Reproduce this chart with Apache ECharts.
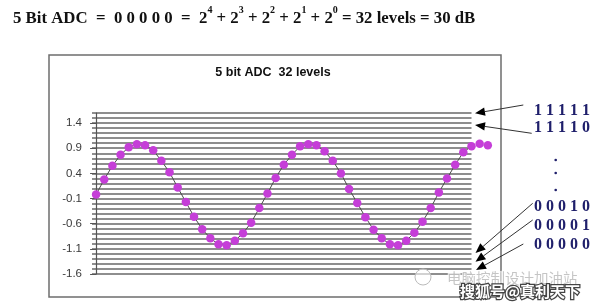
<!DOCTYPE html>
<html><head><meta charset="utf-8">
<script src="https://cdn.jsdelivr.net/npm/echarts@6/dist/echarts.min.js"></script>
<style>html,body{margin:0;padding:0;background:#fff}#c{width:600px;height:308px}</style>
</head><body><div id="c"></div>
<script>
// ---- data ----
const levelValues = [
  -0.02, 0.28, 0.55, 0.77, 0.92, 0.98, 0.96, 0.86, 0.65, 0.42,
   0.12,-0.17,-0.46,-0.71,-0.89,-1.01,-1.03,-0.94,-0.79,-0.58,
  -0.29, 0.00, 0.31, 0.57, 0.77, 0.94, 0.98, 0.96, 0.84, 0.65,
   0.40, 0.09,-0.19,-0.47,-0.72,-0.89,-1.01,-1.03,-0.94,-0.78,
  -0.56,-0.29, 0.02, 0.30, 0.57, 0.82, 0.94, 0.99, 0.96
];
const yTickLabels = [-1.6, -1.1, -0.6, -0.1, 0.4, 0.9, 1.4];
const yMin = -1.6, yMax = 1.6, levelStep = 0.1;
const codeLabels = ['1 1 1 1 1', '1 1 1 1 0', '0 0 0 1 0', '0 0 0 0 1', '0 0 0 0 0'];
const chartTitle = '5 bit ADC  32 levels';
const headParts = [
  ['5 Bit ADC  =  0 0 0 0 0  =  2', 'b'], ['4', 's'],
  [' + 2', 'b'], ['3', 's'], [' + 2', 'b'], ['2', 's'],
  [' + 2', 'b'], ['1', 's'], [' + 2', 'b'], ['0', 's'],
  [' = 32 levels = 30 dB', 'b']
];
const watermark1 = '电脑控制设计加油站';
const watermark2 = '搜狐号@真利天下';

// ---- build ----
const samples = levelValues.map((v, i) => [i, v]);
const headText = headParts.map(p => '{' + p[1] + '|' + p[0] + '}').join('');

function arrow(x1, y1, x2, y2) {
  const dx = x2 - x1, dy = y2 - y1, L = Math.hypot(dx, dy);
  const ux = dx / L, uy = dy / L, len = 10, hw = 4.2;
  const bx = x2 - ux * len, by = y2 - uy * len;
  return [
    {type: 'line', shape: {x1: x1, y1: y1, x2: bx, y2: by}, style: {stroke: '#333', lineWidth: 1}, z: 20},
    {type: 'polygon', shape: {points: [[x2, y2], [bx - uy * hw, by + ux * hw], [bx + uy * hw, by - ux * hw]]}, style: {fill: '#000'}, z: 20}
  ];
}

const codeY = [110.7, 128.3, 206.5, 225.7, 245];
const graphics = [
  {type: 'rect', shape: {x: 49, y: 55, width: 452, height: 242}, style: {fill: 'none', stroke: '#6e6e6e', lineWidth: 1.5}, z: 1},
  {type: 'text', x: 273, y: 73, style: {text: chartTitle, font: 'bold 12.5px "Liberation Sans", Arial, sans-serif', fill: '#111', textAlign: 'center', textVerticalAlign: 'middle'}, z: 20}
];
codeLabels.forEach((t, i) => {
  graphics.push({type: 'text', x: 534, y: codeY[i], style: {text: t, font: 'bold 16px "Liberation Serif", serif', fill: '#1f1f6b', textAlign: 'left', textVerticalAlign: 'middle'}, z: 20});
});
[160, 173, 190].forEach(y => graphics.push({type: 'circle', shape: {cx: 555.7, cy: y, r: 1.3}, style: {fill: '#1f1f6b'}, z: 20}));
[
  [523.3, 105, 475, 113.3],
  [531.7, 133.3, 475, 125],
  [532.7, 203.3, 475.5, 253],
  [532.7, 220, 475.5, 261.7],
  [523.3, 244, 476, 270]
].forEach(a => graphics.push(...arrow(a[0], a[1], a[2], a[3])));
// watermark
graphics.push({type: 'circle', shape: {cx: 423, cy: 277, r: 8}, style: {fill: 'rgba(255,255,255,0.6)', stroke: '#bbb', lineWidth: 1}, z: 30});
graphics.push({type: 'text', x: 447, y: 278, style: {text: watermark1, font: '14.5px "Noto Sans CJK SC", sans-serif', fill: 'rgba(150,150,150,0.55)', stroke: 'rgba(255,255,255,0.8)', lineWidth: 2, textAlign: 'left', textVerticalAlign: 'middle'}, z: 30});
graphics.push({type: 'text', x: 460, y: 291, style: {text: watermark2, font: 'bold 15px "Noto Sans CJK SC", sans-serif', fill: '#fff', stroke: '#444', lineWidth: 2.5, textAlign: 'left', textVerticalAlign: 'middle'}, z: 31});

const chart = echarts.init(document.getElementById('c'), null, {renderer: 'canvas'});
chart.setOption({
  backgroundColor: '#fff',
  animation: false,
  title: {
    text: headText, left: 8, top: 0,
    textStyle: {
      rich: {
        b: {fontFamily: '"Liberation Serif", "Times New Roman", serif', fontWeight: 'bold', fontSize: 16.8, color: '#111', verticalAlign: 'bottom', lineHeight: 22},
        s: {fontFamily: '"Liberation Serif", "Times New Roman", serif', fontWeight: 'bold', fontSize: 10, color: '#111', verticalAlign: 'top', lineHeight: 14}
      }
    }
  },
  grid: {left: 92, top: 113, right: 128.5, bottom: 34, containLabel: false},
  xAxis: {type: 'value', min: -0.5, max: 46, show: false},
  yAxis: [{
    type: 'value', min: yMin, max: yMax, interval: levelStep,
    axisLine: {show: true, lineStyle: {color: '#555', width: 1.2}},
    axisTick: {show: true, length: 6, customValues: yTickLabels, lineStyle: {color: '#555'}},
    axisLabel: {customValues: yTickLabels, formatter: v => (+v).toFixed(1), color: '#3a3a3a', fontSize: 11.5, fontFamily: '"Liberation Sans", Arial, sans-serif', margin: 10},
    splitLine: {show: false},
    z: 5
  }, {
    type: 'value', position: 'left', offset: 0, min: yMin, max: yMax, interval: levelStep,
    axisLine: {show: false}, axisTick: {show: false}, axisLabel: {show: false},
    splitLine: {show: true, lineStyle: {color: '#8e8e8e', width: 1.8}}
  }],
  series: [{
    type: 'line', data: samples, clip: false, yAxisIndex: 0,
    symbol: 'circle', symbolSize: 8.5,
    itemStyle: {color: '#c53ed8'},
    lineStyle: {color: '#4a4a4a', width: 1},
    z: 10
  }],
  graphic: graphics
});
</script>
</body></html>
